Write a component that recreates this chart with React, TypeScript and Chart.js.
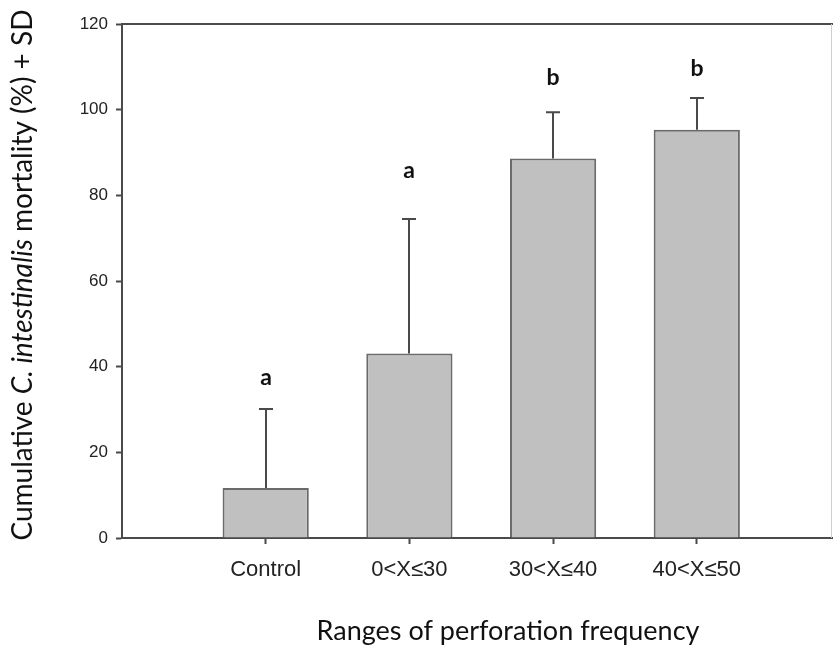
import React, { useEffect, useRef } from 'react';
import { Chart, registerables } from 'chart.js';

Chart.register(...registerables);

const categories = ['Control', '0<X≤30', '30<X≤40', '40<X≤50'];
const meanValues = [11.7, 43.1, 88.6, 95.3];
const sdValues = [18.4, 31.4, 10.8, 7.4];
const groupLetters = ['a', 'a', 'b', 'b'];
const letterValues = [37.4, 85.7, 107.6, 109.7];
const yTickValues = [0, 20, 40, 60, 80, 100, 120];
const xAxisTitle = 'Ranges of perforation frequency';
const yTitleParts = [
  { text: 'Cumulative ', italic: false },
  { text: 'C. intestinalis', italic: true },
  { text: ' mortality (%) + SD', italic: false },
];

const AXIS = '#4a4a4a';

const overlay = {
  id: 'overlay',
  afterDatasetsDraw(chart: any) {
    const ctx = chart.ctx;
    const xs = chart.scales.x;
    const ys = chart.scales.y;
    const area = chart.chartArea;
    ctx.save();
    ctx.strokeStyle = AXIS;
    ctx.lineWidth = 2;
    meanValues.forEach((m, i) => {
      const px = Math.round(xs.getPixelForValue(i));
      const base = ys.getPixelForValue(m);
      const top = ys.getPixelForValue(m + sdValues[i]);
      ctx.beginPath();
      ctx.moveTo(px, base);
      ctx.lineTo(px, top);
      ctx.moveTo(px - 7, top);
      ctx.lineTo(px + 7, top);
      ctx.stroke();
      ctx.fillStyle = '#111';
      ctx.font = 'bold 23px Lato';
      ctx.textAlign = 'center';
      ctx.textBaseline = 'middle';
      ctx.fillText(groupLetters[i], px, ys.getPixelForValue(letterValues[i]));
    });
    ctx.strokeStyle = AXIS;
    ctx.lineWidth = 2;
    ctx.beginPath();
    ctx.moveTo(area.left, area.top);
    ctx.lineTo(area.right, area.top);
    ctx.stroke();
    ctx.strokeStyle = '#cfcfcf';
    ctx.lineWidth = 1;
    ctx.beginPath();
    ctx.moveTo(area.right - 1.5, area.top);
    ctx.lineTo(area.right - 1.5, area.bottom);
    ctx.stroke();
    ctx.restore();
  },
  afterDraw(chart: any) {
    const ctx = chart.ctx;
    ctx.save();
    ctx.fillStyle = '#111';
    ctx.font = '27px Lato';
    ctx.textAlign = 'center';
    ctx.textBaseline = 'middle';
    ctx.fillText(xAxisTitle, 508, 631);
    ctx.translate(23, 275);
    ctx.rotate(-Math.PI / 2);
    const fonts = yTitleParts.map((p) => (p.italic ? 'italic 28px Lato' : '28px Lato'));
    let total = 0;
    const widths = yTitleParts.map((p, i) => {
      ctx.font = fonts[i];
      const w = ctx.measureText(p.text).width;
      total += w;
      return w;
    });
    let cx = -total / 2;
    ctx.textAlign = 'left';
    yTitleParts.forEach((p, i) => {
      ctx.font = fonts[i];
      ctx.fillText(p.text, cx, 0);
      cx += widths[i];
    });
    ctx.restore();
  },
};

export default function App() {
  const ref = useRef<HTMLCanvasElement>(null);
  useEffect(() => {
    if (!ref.current) return;
    const chart = new Chart(ref.current, {
      type: 'bar',
      data: {
        datasets: [
          {
            data: meanValues.map((v, i) => ({ x: i, y: v })),
            backgroundColor: '#c0c0c0',
            borderColor: '#6a6a6a',
            borderWidth: 2,
            borderSkipped: 'bottom',
            categoryPercentage: 0.6,
            barPercentage: 1,
          },
        ],
      },
      options: {
        responsive: false,
        animation: false,
        events: [],
        layout: { padding: { left: 0, right: 0, top: 24, bottom: 0 } },
        plugins: {
          legend: { display: false },
          tooltip: { enabled: false },
          title: { display: false },
        },
        scales: {
          x: {
            type: 'linear',
            offset: false,
            min: -1,
            max: 3.948,
            afterBuildTicks: (s: any) => {
              s.ticks = categories.map((_, i) => ({ value: i }));
            },
            afterFit: (s: any) => {
              s.height = 112;
            },
            ticks: {
              callback: (v: any) => categories[v as number] ?? '',
              color: '#222',
              font: { family: 'Liberation Sans', size: 22 },
              padding: 13,
              maxRotation: 0,
              autoSkip: false,
            },
            grid: {
              offset: false,
              drawOnChartArea: false,
              drawTicks: true,
              tickLength: 6,
              tickColor: AXIS,
              tickWidth: 2,
            },
            border: { display: true, color: AXIS, width: 2 },
          },
          y: {
            min: 0,
            max: 120,
            afterBuildTicks: (s: any) => {
              s.ticks = yTickValues.map((v) => ({ value: v }));
            },
            afterFit: (s: any) => {
              s.width = 122;
            },
            ticks: {
              color: '#222',
              font: { family: 'Liberation Sans', size: 17 },
              padding: 8,
            },
            grid: {
              drawOnChartArea: false,
              drawTicks: true,
              tickLength: 6,
              tickColor: AXIS,
              tickWidth: 2,
            },
            border: { display: true, color: AXIS, width: 2 },
          },
        },
      },
      plugins: [overlay],
    });
    return () => chart.destroy();
  }, []);
  return (
    <div style={{ position: 'absolute', left: 0, top: 0, width: 833, height: 650, background: '#fff' }}>
      <canvas ref={ref} width={833} height={650} style={{ display: 'block' }} />
    </div>
  );
}
